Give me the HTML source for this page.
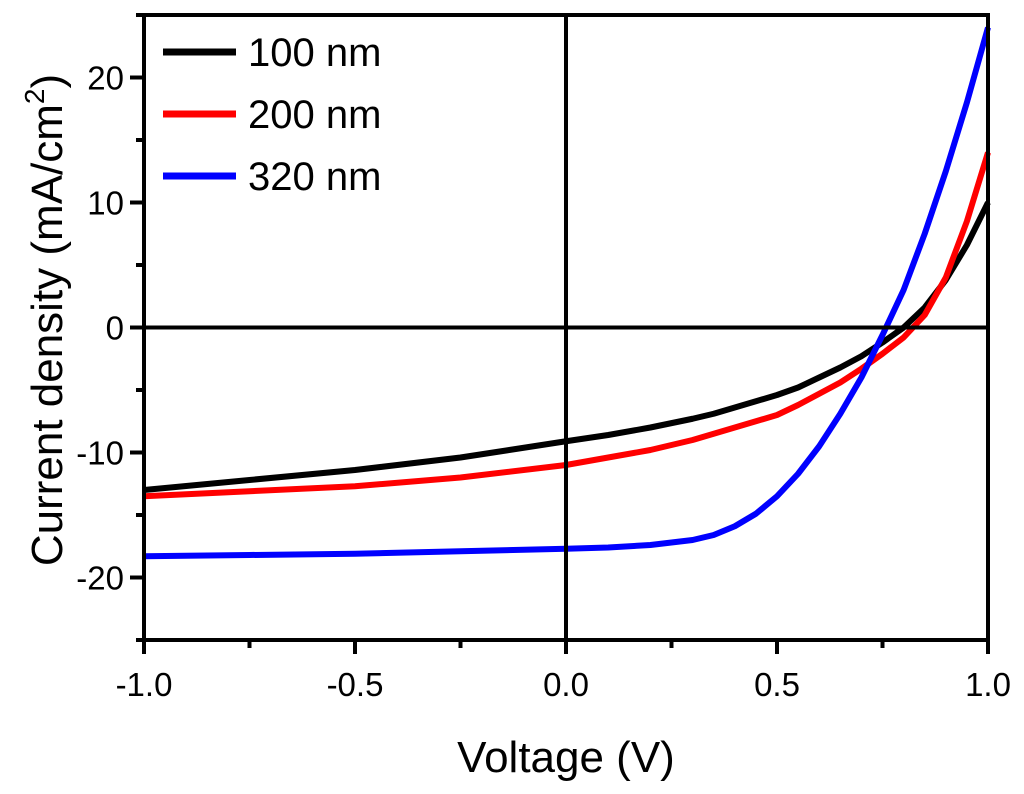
<!DOCTYPE html>
<html><head><meta charset="utf-8"><style>
body{margin:0;background:#fff}
svg text{font-family:"Liberation Sans",sans-serif;fill:#000}
</style></head><body>
<svg width="1024" height="789" viewBox="0 0 1024 789">
<g id="plot"></g>
</svg>
<script>
const voltages=[-1.0,-0.75,-0.5,-0.25,0,0.1,0.2,0.3,0.35,0.4,0.45,0.5,0.55,0.6,0.65,0.7,0.75,0.8,0.85,0.9,0.95,1.0];
const series100=[-13,-12.2,-11.4,-10.4,-9.1,-8.6,-8.0,-7.3,-6.9,-6.4,-5.9,-5.4,-4.8,-4.0,-3.2,-2.3,-1.2,0,1.6,3.8,6.6,10];
const series200=[-13.5,-13.1,-12.7,-12.0,-11,-10.4,-9.8,-9.0,-8.5,-8.0,-7.5,-7.0,-6.2,-5.3,-4.4,-3.3,-2.1,-0.8,1.0,4.0,8.5,14];
const series320=[-18.3,-18.2,-18.1,-17.9,-17.7,-17.6,-17.4,-17.0,-16.6,-15.9,-14.9,-13.5,-11.7,-9.5,-6.9,-4.0,-0.6,3.0,7.5,12.5,18,24];
const xTicks=[-1.0,-0.5,0.0,0.5,1.0];
const yTicks=[-20,-10,0,10,20];
const names=["100 nm","200 nm","320 nm"];
const colors=["#000","#f00","#00f"];
const X0=144,X1=988,Y0=640,Y1=15;
const xs=v=>X0+(v+1)/2*(X1-X0);
const ys=v=>Y0-(v+25)/50*(Y0-Y1);
const NS="http://www.w3.org/2000/svg";
const g=document.getElementById('plot');
function mk(t,a,p){const e=document.createElementNS(NS,t);for(const k in a)e.setAttribute(k,a[k]);(p||g).appendChild(e);return e;}
[series100,series200,series320].forEach((s,i)=>{
 const p=mk('polyline',{points:s.map((v,j)=>xs(voltages[j])+','+ys(v)).join(' '),fill:'none',stroke:colors[i],'stroke-width':6,'stroke-linejoin':'round'});
 
 
});
let zl=mk('line',{x1:xs(0),x2:xs(0),y1:Y1,y2:Y0,stroke:'#000','stroke-width':4});


let zh=mk('line',{x1:X0,x2:X1,y1:ys(0),y2:ys(0),stroke:'#000','stroke-width':4});


let fr=mk('rect',{x:X0,y:Y1,width:X1-X0,height:Y0-Y1,fill:'none',stroke:'#000','stroke-width':4});


for(let v=-1;v<=1.001;v+=0.25){const major=Math.abs(v*2-Math.round(v*2))<1e-6;
 mk('line',{x1:xs(v),x2:xs(v),y1:Y0,y2:Y0+(major?14:8),stroke:'#000','stroke-width':4});}
xTicks.forEach(v=>{const t=mk('text',{x:xs(v),y:Y0+56,'font-size':33,'text-anchor':'middle'});t.textContent=v.toFixed(1);
 
 });
for(let v=-25;v<=25;v+=5){const major=v%10===0;
 mk('line',{x1:X0,x2:X0-(major?14:8),y1:ys(v),y2:ys(v),stroke:'#000','stroke-width':4});}
yTicks.forEach(v=>{const t=mk('text',{x:X0-20,y:ys(v)+12,'font-size':33,'text-anchor':'end'});t.textContent=v;
 
 });
let xt=mk('text',{x:566,y:772,'font-size':44,'text-anchor':'middle'});xt.textContent='Voltage (V)';


let yt=mk('text',{transform:'translate(62,320) rotate(-90)','font-size':44,'text-anchor':'middle'});
yt.innerHTML='Current density (mA/cm<tspan font-size="28" dy="-18">2</tspan><tspan dy="18">)</tspan>';


names.forEach((n,i)=>{const y=52+i*62;
 const l=mk('line',{x1:163,x2:236,y1:y,y2:y,stroke:colors[i],'stroke-width':7});
 
 
 const t=mk('text',{x:248,y:y+14,'font-size':40});t.textContent=n;
 
 });
</script>
</body></html>
